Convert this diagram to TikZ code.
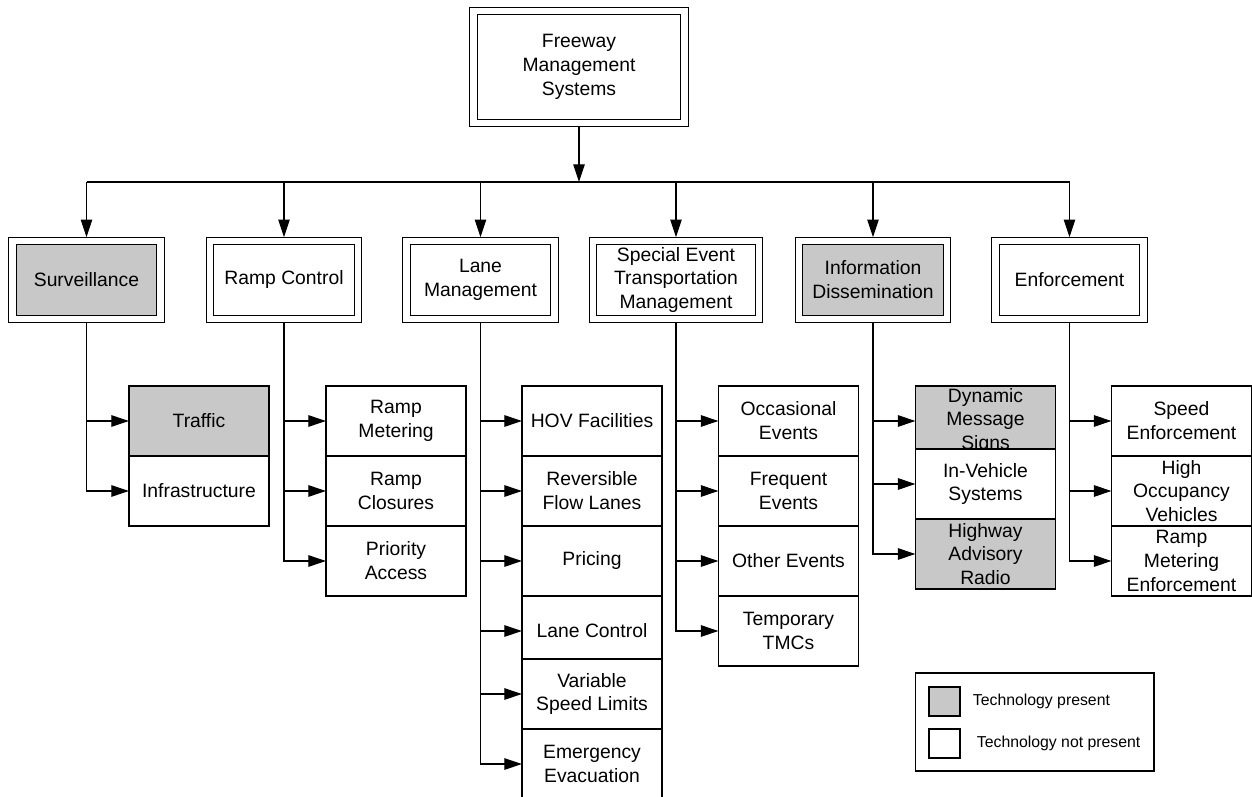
\documentclass[tikz,border=0pt]{standalone}
\usepackage{fontspec}
\setmainfont{Liberation Sans}
\usetikzlibrary{arrows.meta, positioning}
\usepackage{xcolor}
\definecolor{present}{RGB}{200,200,200}

\begin{document}
\begin{tikzpicture}[
    x=0.02cm, y=-0.02cm,
    font=\fontsize{11}{13.6}\selectfont,
    topbox/.style={draw, double, double distance=3.5pt, line width=0.6pt, fill=white, rectangle, minimum width=4.22cm, minimum height=2.25cm, align=center, inner sep=1pt, outer sep=2.3pt},
    areabox/.style={topbox, minimum width=2.96cm, minimum height=1.55cm},
    itembox/.style={draw, line width=0.6pt, fill=white, rectangle, minimum width=2.8cm, minimum height=1.4cm, align=center, inner sep=1pt, outer sep=0pt},
    keybox/.style={draw, line width=0.6pt, rectangle, minimum width=0.62cm, minimum height=0.58cm, inner sep=0pt},
    keytext/.style={font=\fontsize{9}{11}\selectfont, inner sep=0pt},
    arrow/.style={-{Triangle[length=10pt, width=6.5pt]}, line width=0.6pt}
]
\useasboundingbox (0,0) rectangle (1252,797);

% Topo
\node[topbox] (fms) at (579,67) {Freeway\\Management\\Systems};
\coordinate (bus) at (579,182);

% Areas
\node[areabox, fill=present] (surv) at (86.5,280) {Surveillance};
\node[areabox] (ramp) at (284,280) {Ramp Control};
\node[areabox] (lane) at (480.5,280) {Lane\\Management};
\node[areabox, minimum width=3.31cm] (event) at (676,280) {Special Event\\Transportation\\Management};
\node[areabox, fill=present] (info) at (873,280) {Information\\Dissemination};
\node[areabox] (enf) at (1069.5,280) {Enforcement};

% Surveillance
\node[itembox, fill=present] (traffic) at (199,421) {Traffic};
\node[itembox] (infra) at (199,491) {Infrastructure};

% Ramp Control
\node[itembox] (meter) at (396,421) {Ramp\\Metering};
\node[itembox] (closure) at (396,491) {Ramp\\Closures};
\node[itembox] (priority) at (396,561) {Priority\\Access};

% Lane Management
\node[itembox] (hov) at (592,421) {HOV Facilities};
\node[itembox] (reversible) at (592,491) {Reversible\\Flow Lanes};
\node[itembox] (pricing) at (592,561) {Pricing};
\node[itembox] (lanectl) at (592,631) {Lane Control};
\node[itembox] (vsl) at (592,694) {Variable\\Speed Limits};
\node[itembox] (evac) at (592,764) {Emergency\\Evacuation};

% Special Event
\node[itembox] (occasional) at (788.5,421) {Occasional\\Events};
\node[itembox] (frequent) at (788.5,491) {Frequent\\Events};
\node[itembox] (other) at (788.5,561) {Other Events};
\node[itembox] (tmc) at (788.5,631) {Temporary\\TMCs};

% Information Dissemination
\node[itembox, fill=present] (dms) at (985.5,421) {Dynamic\\Message\\Signs};
\node[itembox] (invehicle) at (985.5,484) {In-Vehicle\\Systems};
\node[itembox, fill=present] (har) at (985.5,554) {Highway\\Advisory\\Radio};

% Enforcement
\node[itembox] (speed) at (1181.5,421) {Speed\\Enforcement};
\node[itembox] (hovenf) at (1181.5,491) {High\\Occupancy\\Vehicles};
\node[itembox] (rampenf) at (1181.5,561) {Ramp\\Metering\\Enforcement};

% Setas
\draw[arrow] (fms) -- (bus);
\draw[line width=0.6pt] (surv.north |- bus) -- (enf.north |- bus);
\foreach \n in {surv, ramp, lane, event, info, enf}
    \draw[arrow] (\n.north |- bus) -- (\n.north);

\foreach \p/\c in {surv/traffic, surv/infra,
                   ramp/meter, ramp/closure, ramp/priority,
                   lane/hov, lane/reversible, lane/pricing, lane/lanectl, lane/vsl, lane/evac,
                   event/occasional, event/frequent, event/other, event/tmc,
                   info/dms, info/invehicle, info/har,
                   enf/speed, enf/hovenf, enf/rampenf}
    \draw[arrow] (\p.south) |- (\c.west);

% Legenda
\node[draw, line width=0.6pt, rectangle, minimum width=4.78cm, minimum height=1.96cm] (legend) at (1034.5,722) {};
\node[keybox, fill=present] (keyon) at (944.5,701.5) {};
\node[keybox] (keyoff) at (944.5,743.5) {};
\node[keytext, right=0.24cm of keyon] (texton) {Technology present};
\node[keytext, right=0.32cm of keyoff] (textoff) {Technology not present};

\end{tikzpicture}
\end{document}
